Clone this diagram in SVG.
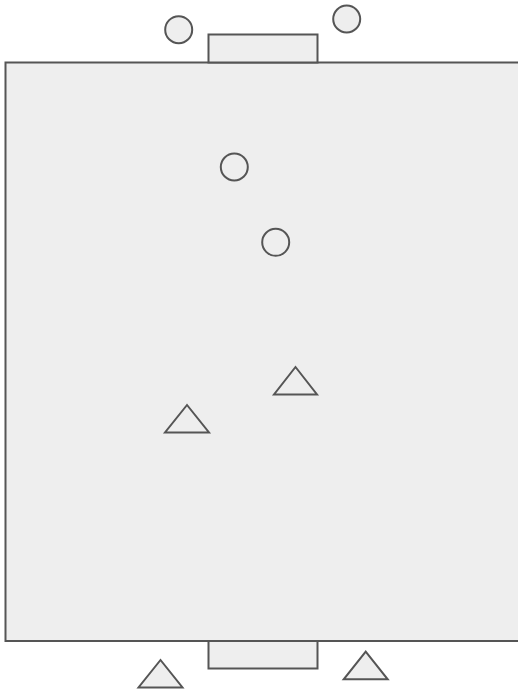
<svg xmlns="http://www.w3.org/2000/svg" width="518" height="690" viewBox="0 0 518 690">
<style>
.s{fill:#eeeeee;stroke:#555555;stroke-width:2}
</style>
<rect width="518" height="690" fill="#ffffff"/>
<rect id="field" class="s" x="5.5" y="62.5" width="520" height="578.5"/>
<rect id="goal-top" class="s" x="208.5" y="34.5" width="109" height="28"/>
<rect id="goal-bottom" class="s" x="208.5" y="641" width="109" height="27.5"/>
<g id="circles">
<circle class="s" cx="178.7" cy="29.7" r="13.5"/>
<circle class="s" cx="346.7" cy="19" r="13.5"/>
<circle class="s" cx="234.3" cy="167" r="13.5"/>
<circle class="s" cx="275.7" cy="242.3" r="13.5"/>
</g>
<g id="triangles">
<polygon class="s" points="295.5,367 274,394.5 317,394.5"/>
<polygon class="s" points="187,405 165,432.5 209,432.5"/>
<polygon class="s" points="160.5,660 138.5,687.5 182.5,687.5"/>
<polygon class="s" points="365.7,651.7 343.7,679.3 387.7,679.3"/>
</g>
</svg>
